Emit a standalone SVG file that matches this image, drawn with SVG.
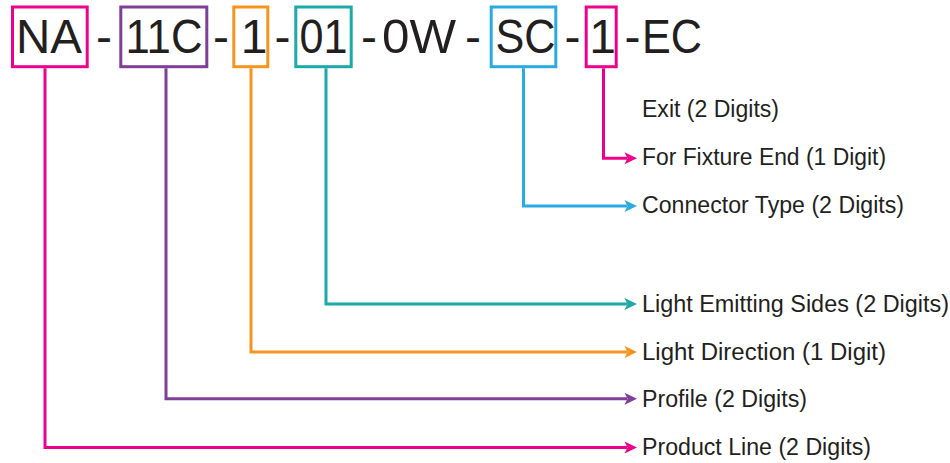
<svg xmlns="http://www.w3.org/2000/svg" width="950" height="463" viewBox="0 0 950 463">
<style>
.big{font-family:"Liberation Sans",Arial,sans-serif;font-size:48px;fill:#231F20;text-anchor:middle}
.lbl{font-family:"Liberation Sans",Arial,sans-serif;font-size:23px;fill:#231F20}
.box{fill:none;stroke-width:3}
.ln{fill:none;stroke-width:3}
.pink{stroke:#EC008C}.purple{stroke:#7F3F98}.orange{stroke:#F7941D}.teal{stroke:#1BA9A9}.blue{stroke:#29ABE2}
</style>
<rect width="950" height="463" fill="#fff"/>
<g id="code">
<text class="big" x="49" y="53" textLength="66" lengthAdjust="spacingAndGlyphs">NA</text>
<text class="big" x="104" y="53">-</text>
<text class="big" x="164" y="53" textLength="77" lengthAdjust="spacingAndGlyphs">11C</text>
<text class="big" x="221" y="53">-</text>
<text class="big" x="254" y="53">1</text>
<text class="big" x="282.5" y="53">-</text>
<text class="big" x="323.5" y="53" textLength="48" lengthAdjust="spacingAndGlyphs">01</text>
<text class="big" x="369" y="53">-</text>
<text class="big" x="419" y="53" textLength="74" lengthAdjust="spacingAndGlyphs">0W</text>
<text class="big" x="473" y="53">-</text>
<text class="big" x="525.5" y="53" textLength="60" lengthAdjust="spacingAndGlyphs">SC</text>
<text class="big" x="572.5" y="53">-</text>
<text class="big" x="602.5" y="53">1</text>
<text class="big" x="632.5" y="53">-</text>
<text class="big" x="672" y="53" textLength="60" lengthAdjust="spacingAndGlyphs">EC</text>
</g>
<g id="box-na"><rect class="box pink" x="12.5" y="7" width="74.7" height="59.7"/></g>
<g id="box-11c"><rect class="box purple" x="120.8" y="7" width="86" height="59.7"/></g>
<g id="box-1a"><rect class="box orange" x="233.8" y="7" width="34" height="59.7"/></g>
<g id="box-01"><rect class="box teal" x="295.8" y="7" width="55.4" height="59.7"/></g>
<g id="box-sc"><rect class="box blue" x="491.2" y="7" width="64.6" height="59.7"/></g>
<g id="box-1b"><rect class="box pink" x="586.2" y="7" width="30" height="59.7"/></g>
<g id="connectors">
<path class="ln pink" d="M603.5,68.2V158.3H627"/>
<path d="M637,158.3L624.5,152.3L627.5,158.3L624.5,164.3Z" fill="#EC008C"/>
<path class="ln blue" d="M523.5,68.2V206H627"/>
<path d="M637,206L624.5,200L627.5,206L624.5,212Z" fill="#29ABE2"/>
<path class="ln teal" d="M326,68.2V304H627"/>
<path d="M637,304L624.5,298L627.5,304L624.5,310Z" fill="#1BA9A9"/>
<path class="ln orange" d="M251,68.2V352H627"/>
<path d="M637,352L624.5,346L627.5,352L624.5,358Z" fill="#F7941D"/>
<path class="ln purple" d="M166,68.2V398.7H627"/>
<path d="M637,398.7L624.5,392.7L627.5,398.7L624.5,404.7Z" fill="#7F3F98"/>
<path class="ln pink" d="M45,68.2V447.5H627"/>
<path d="M637,447.5L624.5,441.5L627.5,447.5L624.5,453.5Z" fill="#EC008C"/>
</g>
<g id="labels">
<text class="lbl" x="642" y="116.7" textLength="137" lengthAdjust="spacingAndGlyphs">Exit (2 Digits)</text>
<text class="lbl" x="642" y="165" textLength="244" lengthAdjust="spacingAndGlyphs">For Fixture End (1 Digit)</text>
<text class="lbl" x="642" y="213" textLength="262" lengthAdjust="spacingAndGlyphs">Connector Type (2 Digits)</text>
<text class="lbl" x="642" y="311.7" textLength="307" lengthAdjust="spacingAndGlyphs">Light Emitting Sides (2 Digits)</text>
<text class="lbl" x="642" y="359.5" textLength="244" lengthAdjust="spacingAndGlyphs">Light Direction (1 Digit)</text>
<text class="lbl" x="642" y="406.5" textLength="165" lengthAdjust="spacingAndGlyphs">Profile (2 Digits)</text>
<text class="lbl" x="642" y="454.5" textLength="229" lengthAdjust="spacingAndGlyphs">Product Line (2 Digits)</text>
</g>
</svg>
